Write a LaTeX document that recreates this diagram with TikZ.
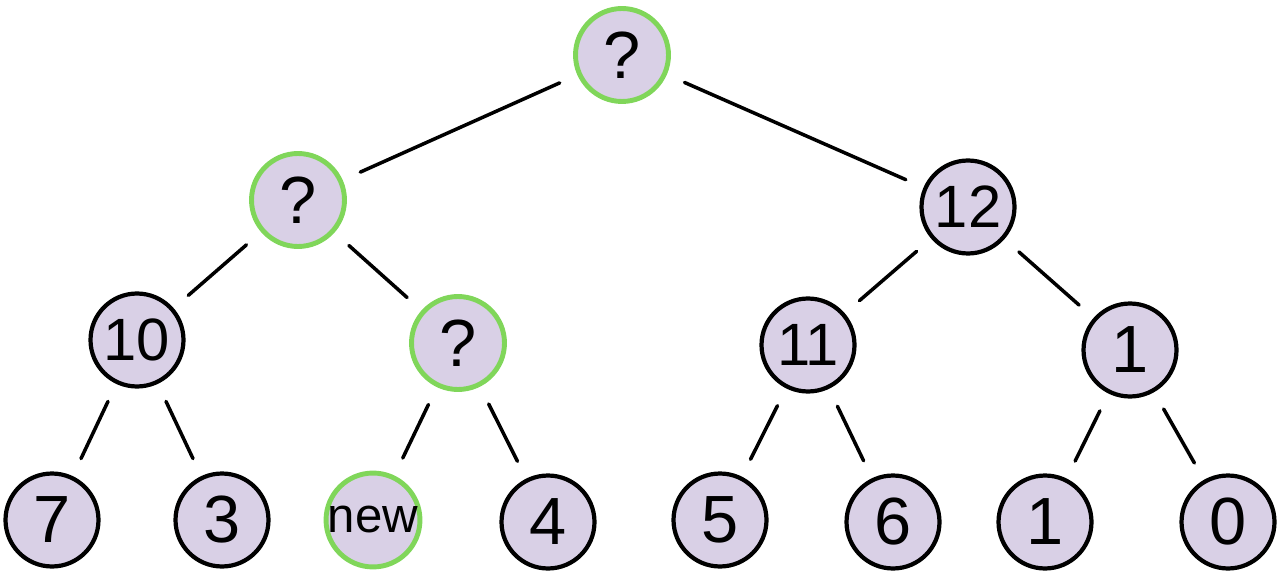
\documentclass[tikz,border=0pt]{standalone}
\usepackage{fontspec}
\setmainfont{Liberation Sans}
\definecolor{lav}{HTML}{D9D0E6}
\definecolor{grn}{HTML}{80D65A}
\begin{document}
\begin{tikzpicture}[x=0.02cm,y=-0.02cm,
  tn/.style={circle,draw=black,line width=2.4pt,fill=lav,minimum size=1.86cm,inner sep=0pt,font=\fontsize{38}{38}\selectfont},
  gn/.style={tn,draw=grn,line width=2.8pt},
  ed/.style={line width=2pt,line cap=round,shorten >=11pt,shorten <=11pt}]
\useasboundingbox (0,0) rectangle (1280,577);
\node[gn] (r) at (622,55) {?};
\node[gn] (a) at (298,200) {?};
\node[tn,font=\fontsize{34}{34}\selectfont] (b) at (968,207) {12};
\node[tn,font=\fontsize{34}{34}\selectfont] (c) at (137,340) {10};
\node[gn] (d) at (458,343) {?};
\node[tn,font=\fontsize{34}{34}\selectfont] (e) at (808,345) {11};
\node[tn] (f) at (1130,350) {1};
\node[tn] (g) at (52,520) {7};
\node[tn] (h) at (222,520) {3};
\node[gn,font=\fontsize{28}{28}\selectfont] (i) at (373,520) {new};
\node[tn] (j) at (548,522) {4};
\node[tn] (k) at (720,520) {5};
\node[tn] (l) at (893,522) {6};
\node[tn] (m) at (1045,522) {1};
\node[tn] (n) at (1228,522) {0};
\draw[ed] (r) -- (a);
\draw[ed] (r) -- (b);
\draw[ed] (a) -- (c);
\draw[ed] (a) -- (d);
\draw[ed] (b) -- (e);
\draw[ed] (b) -- (f);
\draw[ed] (c) -- (g);
\draw[ed] (c) -- (h);
\draw[ed] (d) -- (i);
\draw[ed] (d) -- (j);
\draw[ed] (e) -- (k);
\draw[ed] (e) -- (l);
\draw[ed] (f) -- (m);
\draw[ed] (f) -- (n);
\end{tikzpicture}
\end{document}
